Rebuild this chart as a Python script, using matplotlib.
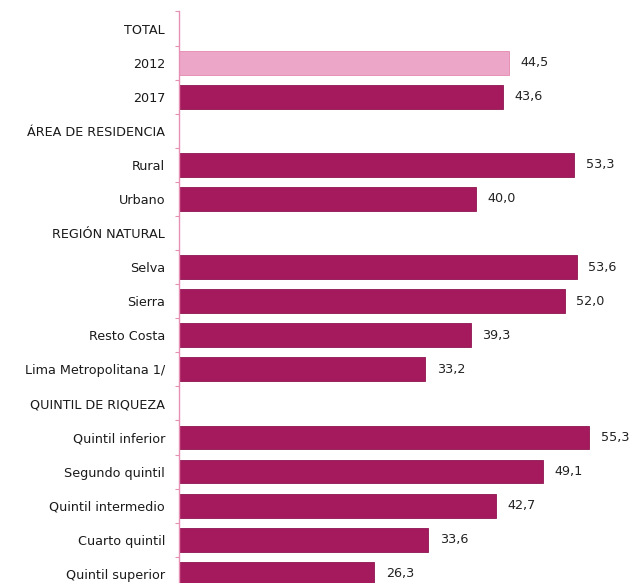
import matplotlib
matplotlib.use("Agg")
import matplotlib.pyplot as plt
import numpy as np

plt.rcParams['font.family'] = ['Liberation Sans Narrow', 'DejaVu Sans Condensed', 'DejaVu Sans']

categories = ["TOTAL", "2012", "2017", "ÁREA DE RESIDENCIA", "Rural", "Urbano",
              "REGIÓN NATURAL", "Selva", "Sierra", "Resto Costa", "Lima Metropolitana 1/",
              "QUINTIL DE RIQUEZA", "Quintil inferior", "Segundo quintil",
              "Quintil intermedio", "Cuarto quintil", "Quintil superior"]
values = [None, 44.5, 43.6, None, 53.3, 40.0, None, 53.6, 52.0, 39.3, 33.2,
          None, 55.3, 49.1, 42.7, 33.6, 26.3]
value_labels = ["", "44,5", "43,6", "", "53,3", "40,0", "", "53,6", "52,0", "39,3",
                "33,2", "", "55,3", "49,1", "42,7", "33,6", "26,3"]

dark = "#A5195D"
light = "#EBA6C8"
axis_pink = "#E690B4"
fs = 9.2

fig = plt.figure(figsize=(6.31, 5.83), dpi=100)
ax = fig.add_axes([179/631, 0.0, 1 - 179/631, 1 - 11.5/583])

y = np.arange(len(categories))
for i, v in enumerate(values):
    if v is None:
        continue
    c = light if i == 1 else dark
    ec = "#E587B0" if i == 1 else "#8E1550"
    ax.barh(i, v, height=0.7, color=c, edgecolor=ec, linewidth=0.6)
    ax.text(v + 1.55, i, value_labels[i], va='center', ha='left',
            fontsize=fs, color="#222222")

ax.set_xlim(0, (631 - 179) / 7.42)
ax.set_ylim(16.27, -0.5)
ax.set_yticks(y)
ax.set_yticklabels(categories, fontsize=fs, color="#1a1a1a")
ax.tick_params(axis='y', which='major', length=0, pad=10)
ax.set_yticks(np.arange(-0.5, 16.5, 1.0), minor=True)
ax.tick_params(axis='y', which='minor', length=3, color=axis_pink, width=0.8)
ax.set_xticks([])
for s in ['top', 'right', 'bottom']:
    ax.spines[s].set_visible(False)
ax.spines['left'].set_color(axis_pink)
ax.spines['left'].set_linewidth(1.0)

fig.savefig("out.png", dpi=100)
